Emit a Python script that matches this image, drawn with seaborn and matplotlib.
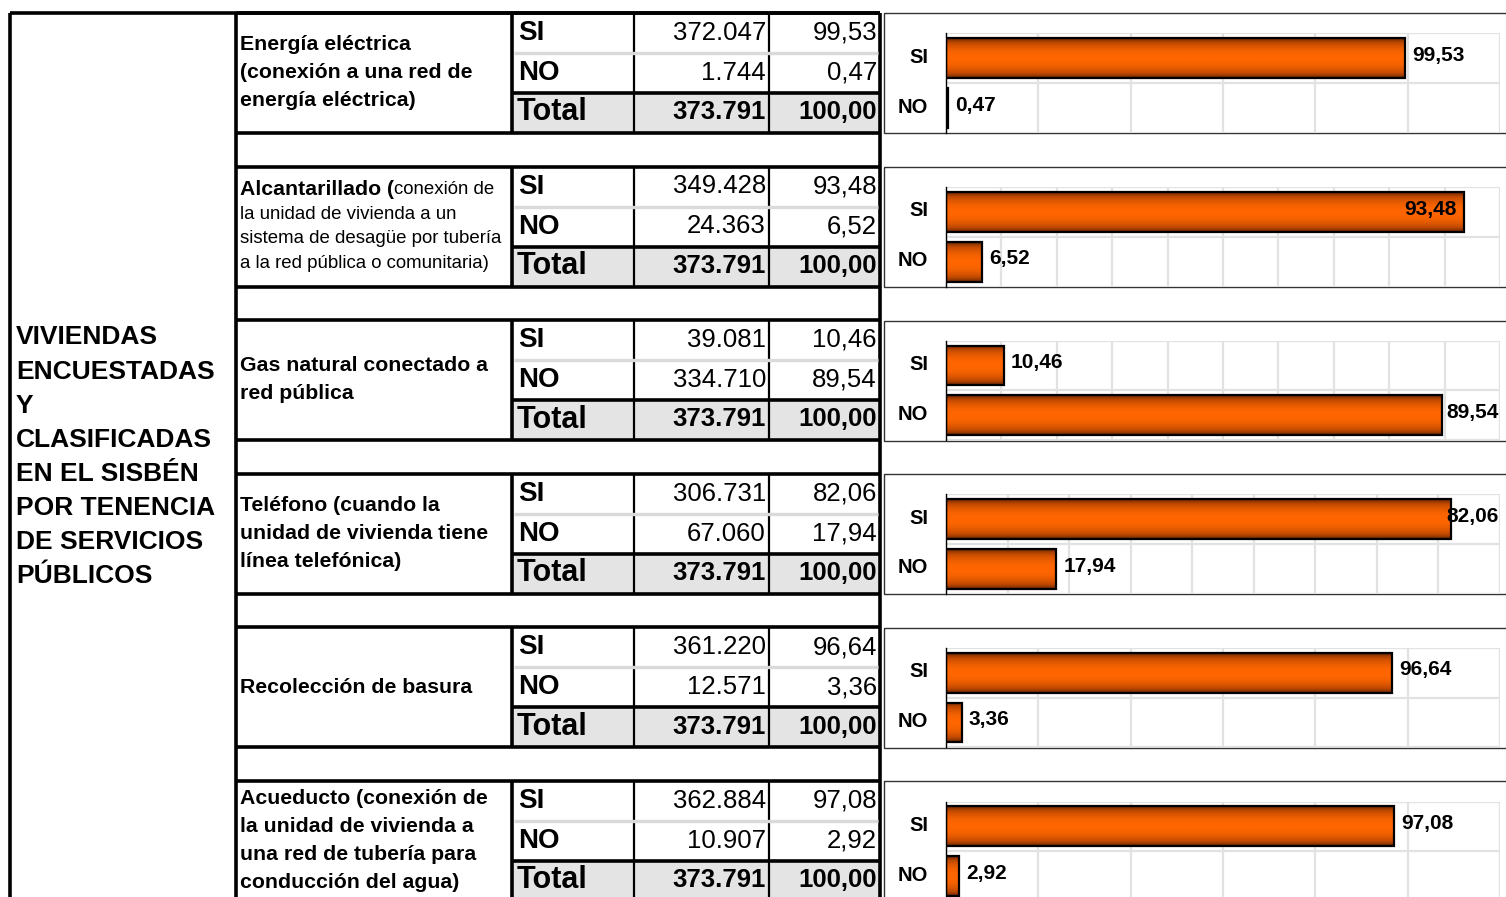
# Tabla + barras: viviendas del SISBÉN por tenencia de servicios públicos
import numpy as np
import pandas as pd
import seaborn as sns
import matplotlib.pyplot as plt
from matplotlib.colors import LinearSegmentedColormap
from matplotlib.patches import Rectangle

# ---- data ----
title_lines = ["VIVIENDAS", "ENCUESTADAS", "Y", "CLASIFICADAS", "EN EL SISBÉN",
               "POR TENENCIA", "DE SERVICIOS", "PÚBLICOS"]
desc_lines = [
    ["Energía eléctrica", "(conexión a una red de", "energía eléctrica)"],
    ["Alcantarillado (conexión de", "la unidad de vivienda a un",
     "sistema de desagüe por tubería", "a la red pública o comunitaria)"],
    ["Gas natural conectado a", "red pública"],
    ["Teléfono (cuando la", "unidad de vivienda tiene", "línea telefónica)"],
    ["Recolección de basura"],
    ["Acueducto (conexión de", "la unidad de vivienda a", "una red de tubería para",
     "conducción del agua)"],
]
bold_prefix = "Alcantarillado ("   # only this part is bold in the 2nd description
answers = ["SI", "NO"]
si_counts = [372047, 349428, 39081, 306731, 361220, 362884]
no_counts = [1744, 24363, 334710, 67060, 12571, 10907]
si_pct = [99.53, 93.48, 10.46, 82.06, 96.64, 97.08]
no_pct = [0.47, 6.52, 89.54, 17.94, 3.36, 2.92]
total_count = 373791
total_pct = 100.00
axis_max = [120, 100, 100, 90, 120, 120]
grid_step = [20, 10, 10, 10, 20, 20]

W, H = 1506, 897

sns.set_theme(style="white")
plt.rcParams["font.family"] = ["Liberation Sans", "DejaVu Sans"]
plt.rcParams["text.color"] = "black"
plt.rcParams["ytick.color"] = "black"
plt.rcParams["xtick.color"] = "black"

fig = plt.figure(figsize=(W / 100, H / 100), dpi=100)
bg = fig.add_axes([0, 0, 1, 1])
bg.set_xlim(0, W)
bg.set_ylim(H, 0)
bg.axis("off")


def px(pt):
    return pt * 100 / 72


def hline(y, x0, x1, lw=2.3, c="black"):
    bg.plot([x0, x1], [y, y], color=c, lw=lw, solid_capstyle="butt", zorder=2)


def vline(x, y0, y1, lw=2.3, c="black"):
    bg.plot([x, x], [y0, y1], color=c, lw=lw, solid_capstyle="butt", zorder=2)


def put(x, yc, s, size, bold=False, ha="left"):
    # baseline placed so that capitals are centred on yc
    return bg.text(x, yc + 0.36 * px(size), s, fontsize=size, ha=ha, va="baseline",
                   fontweight="bold" if bold else "normal", color="black", zorder=3)


def fmt_count(n):
    return f"{n:,}".replace(",", ".")


def fmt_pct(p):
    return f"{p:.2f}".replace(".", ",")


# outer frame
vline(10, 13, H + 5, 2.6)
hline(13, 10, 880, 2.6)
vline(236, 13, H + 5, 2.6)
vline(880, 13, H + 5, 2.6)

# left title
for k, line in enumerate(title_lines):
    put(16, 335 + 34.1 * k, line, 19, bold=True)

cmap = LinearSegmentedColormap.from_list("naranja", ["#4a1a00", "#b84600", "#ff6600"])
tt = np.linspace(-1, 1, 120)
grad = (1 - tt ** 2) ** 0.7
grad = grad.reshape(-1, 1)

renderer = fig.canvas.get_renderer()

for i in range(6):
    t = 13 + 153.6 * i
    # table cells
    bg.add_patch(Rectangle((512, t + 80), 368, 40, color="#e4e4e4", zorder=1))
    hline(t, 236, 880, 2.6)
    hline(t + 120, 236, 880, 2.6)
    vline(512, t, t + 120, 2.6)
    vline(634, t, t + 120, 1.6)
    vline(769, t, t + 120, 1.6)
    hline(t + 40, 514, 878, 2.4, "#dadada")
    hline(t + 80, 512, 880, 2.6)

    # description
    lines = desc_lines[i]
    step = 24.5 if i == 1 else 28
    c0 = t + 57.5 - step * (len(lines) - 1) / 2
    for k, line in enumerate(lines):
        yc = c0 + step * k
        if i == 1 and k == 0:
            head = put(240, yc, bold_prefix, 15.3, bold=True)
            bb = head.get_window_extent(renderer)
            x_end = bg.transData.inverted().transform((bb.x1, bb.y0))[0]
            put(x_end, yc, line[len(bold_prefix):], 13.4)
        elif i == 1:
            put(240, yc, line, 13.4)
        else:
            put(240, yc, line, 15.3, bold=True)

    # SI / NO / Total rows
    put(518, t + 17, "SI", 20, bold=True)
    put(518, t + 57, "NO", 20, bold=True)
    put(517, t + 96.5, "Total", 22, bold=True)
    put(766, t + 17.5, fmt_count(si_counts[i]), 18.5, ha="right")
    put(766, t + 57.5, fmt_count(no_counts[i]), 18.5, ha="right")
    put(766, t + 97, fmt_count(total_count), 18.5, bold=True, ha="right")
    put(877, t + 17.5, fmt_pct(si_pct[i]), 18.5, ha="right")
    put(877, t + 57.5, fmt_pct(no_pct[i]), 18.5, ha="right")
    put(877, t + 97, fmt_pct(total_pct), 18.5, bold=True, ha="right")

    # chart panel frame
    bg.add_patch(Rectangle((884, t + 0.5), 700, 120, fill=False, ec="#333333", lw=1.0, zorder=2))

    # bar chart
    ax = fig.add_axes([946 / W, 1 - (t + 120) / H, (1500 - 946) / W, 99.5 / H])
    df = pd.DataFrame({"resp": answers, "pct": [si_pct[i], no_pct[i]]})
    sns.barplot(data=df, x="pct", y="resp", orient="h", ax=ax, width=0.8,
                color="#ff6600", edgecolor="black", linewidth=1.6, errorbar=None)
    xmax = axis_max[i]
    for p in list(ax.patches):
        x0, y0 = p.get_x(), p.get_y()
        w, h = p.get_width(), p.get_height()
        im = ax.imshow(grad, extent=[x0, x0 + w, y0 + h, y0], aspect="auto", cmap=cmap,
                       vmin=0, vmax=1, interpolation="bilinear", zorder=2)
        im.set_clip_path(p)
        p.set_facecolor("none")
        p.set_zorder(3)

    ax.set_xlim(0, xmax)
    ax.set_ylim(1.5, -0.5)
    ax.set_xticks(np.arange(0, xmax + 1, grid_step[i]))
    ax.set_xticklabels([])
    ax.set_yticks([-0.06, 0.94], answers)
    ax.set_yticks([-0.5, 0.5, 1.5], minor=True)
    ax.tick_params(axis="x", length=0)
    ax.tick_params(axis="y", which="major", length=0, pad=13, labelsize=14.5,
                   labelcolor="black")
    ax.tick_params(axis="y", which="minor", direction="inout", length=10, width=1, color="#333333")
    for lab in ax.get_yticklabels():
        lab.set_fontweight("bold")
    ax.grid(True, which="major", axis="x", color="#e2e2e2", lw=1.6)
    ax.grid(True, which="minor", axis="y", color="#e2e2e2", lw=1.6)
    ax.grid(False, which="major", axis="y")
    ax.set_axisbelow(True)
    for s in ["top", "right", "bottom"]:
        ax.spines[s].set_visible(False)
    ax.spines["left"].set_color("black")
    ax.spines["left"].set_linewidth(1.0)
    ax.set_xlabel("")
    ax.set_ylabel("")
    ax.set_facecolor("white")

    # value labels
    ppu = (1500 - 946) / xmax
    for j, v in enumerate([si_pct[i], no_pct[i]]):
        s = fmt_pct(v)
        kw = dict(textcoords="offset points", va="center", fontsize=15, color="black",
                  fontweight="bold", zorder=5, annotation_clip=False)
        if v * ppu + 62 <= 554:
            ax.annotate(s, (v, j), xytext=(5, 2), ha="left", **kw)
        elif v / xmax > 0.93:
            ax.annotate(s, (v, j), xytext=(-5, 2), ha="right", **kw)
        else:
            ax.annotate(s, (xmax, j), xytext=(-1, 2), ha="right", **kw)

fig.savefig("out.png", dpi=100)
